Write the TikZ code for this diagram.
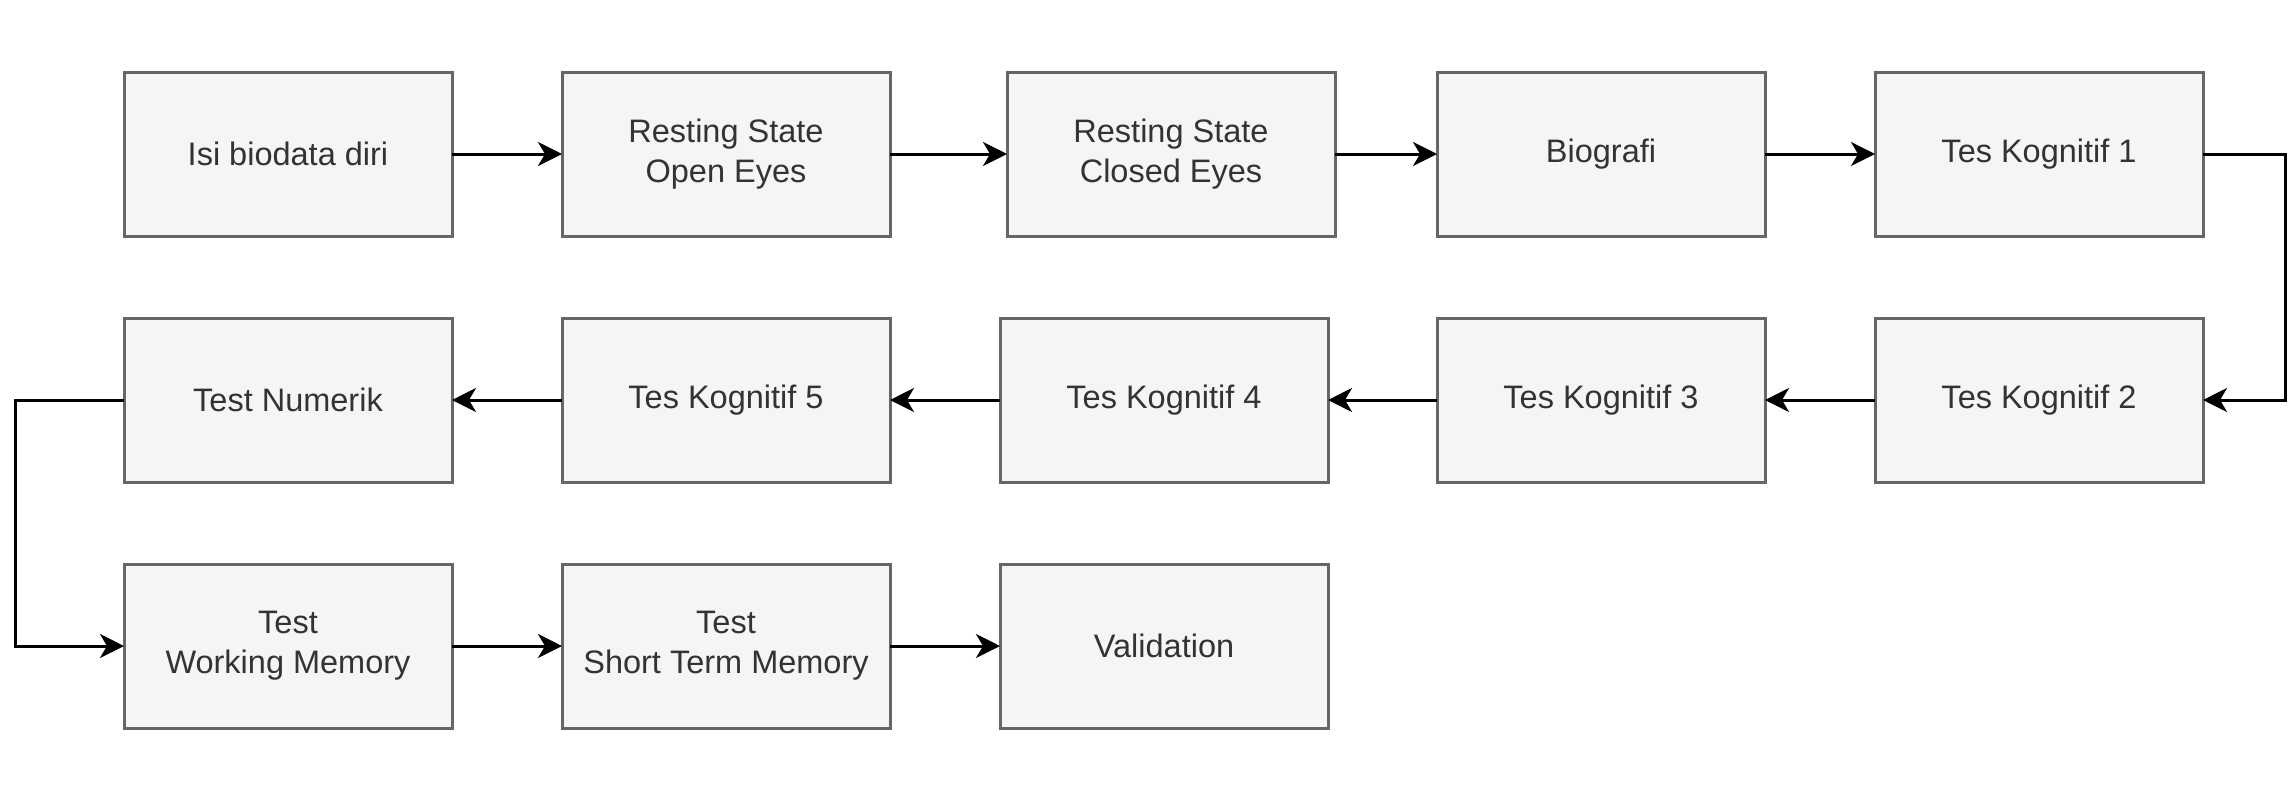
\documentclass[tikz,border=0pt]{standalone}
\usepackage{fontspec}
\setmainfont{Liberation Sans}
\usetikzlibrary{arrows.meta}
\definecolor{boxfill}{HTML}{F5F5F5}
\definecolor{boxline}{HTML}{666666}
\definecolor{boxtext}{HTML}{333333}
\begin{document}
\begin{tikzpicture}[x=1pt,y=-1pt,
  stepbox/.style={draw=boxline, fill=boxfill, line width=3pt, minimum width=328pt, minimum height=164pt,
    inner sep=0pt, outer sep=0pt, align=center, text=boxtext, font=\fontsize{32.5}{40}\selectfont},
  flow/.style={line width=3pt, draw=black, -{Stealth[length=24pt,width=24pt,inset=7pt]}}]
\useasboundingbox (0,0) rectangle (2296,788);
% row 1
\node[stepbox] (a1) at (288,154) {Isi biodata diri};
\node[stepbox] (a2) at (726,154) {Resting State\\Open Eyes};
\node[stepbox] (a3) at (1171,154) {Resting State\\Closed Eyes};
\node[stepbox] (a4) at (1601,154) {Biografi};
\node[stepbox] (a5) at (2039,154) {Tes Kognitif 1};
% row 2
\node[stepbox] (b5) at (2039,400) {Tes Kognitif 2};
\node[stepbox] (b4) at (1601,400) {Tes Kognitif 3};
\node[stepbox] (b3) at (1164,400) {Tes Kognitif 4};
\node[stepbox] (b2) at (726,400) {Tes Kognitif 5};
\node[stepbox] (b1) at (288,400) {Test Numerik};
% row 3
\node[stepbox] (c1) at (288,646) {Test\\Working Memory};
\node[stepbox] (c2) at (726,646) {Test\\Short Term Memory};
\node[stepbox] (c3) at (1164,646) {Validation};
\coordinate (rt) at (2285,154);
\coordinate (rb) at (2285,400);
\coordinate (lt) at (15,400);
\coordinate (lb) at (15,646);
\draw[flow] (a1) -- (a2);
\draw[flow] (a2) -- (a3);
\draw[flow] (a3) -- (a4);
\draw[flow] (a4) -- (a5);
\draw[flow] (a5.east) -- (rt) -- (rb) -- (b5.east);
\draw[flow] (b5) -- (b4);
\draw[flow] (b4) -- (b3);
\draw[flow] (b3) -- (b2);
\draw[flow] (b2) -- (b1);
\draw[flow] (b1.west) -- (lt) -- (lb) -- (c1.west);
\draw[flow] (c1) -- (c2);
\draw[flow] (c2) -- (c3);
\end{tikzpicture}
\end{document}
